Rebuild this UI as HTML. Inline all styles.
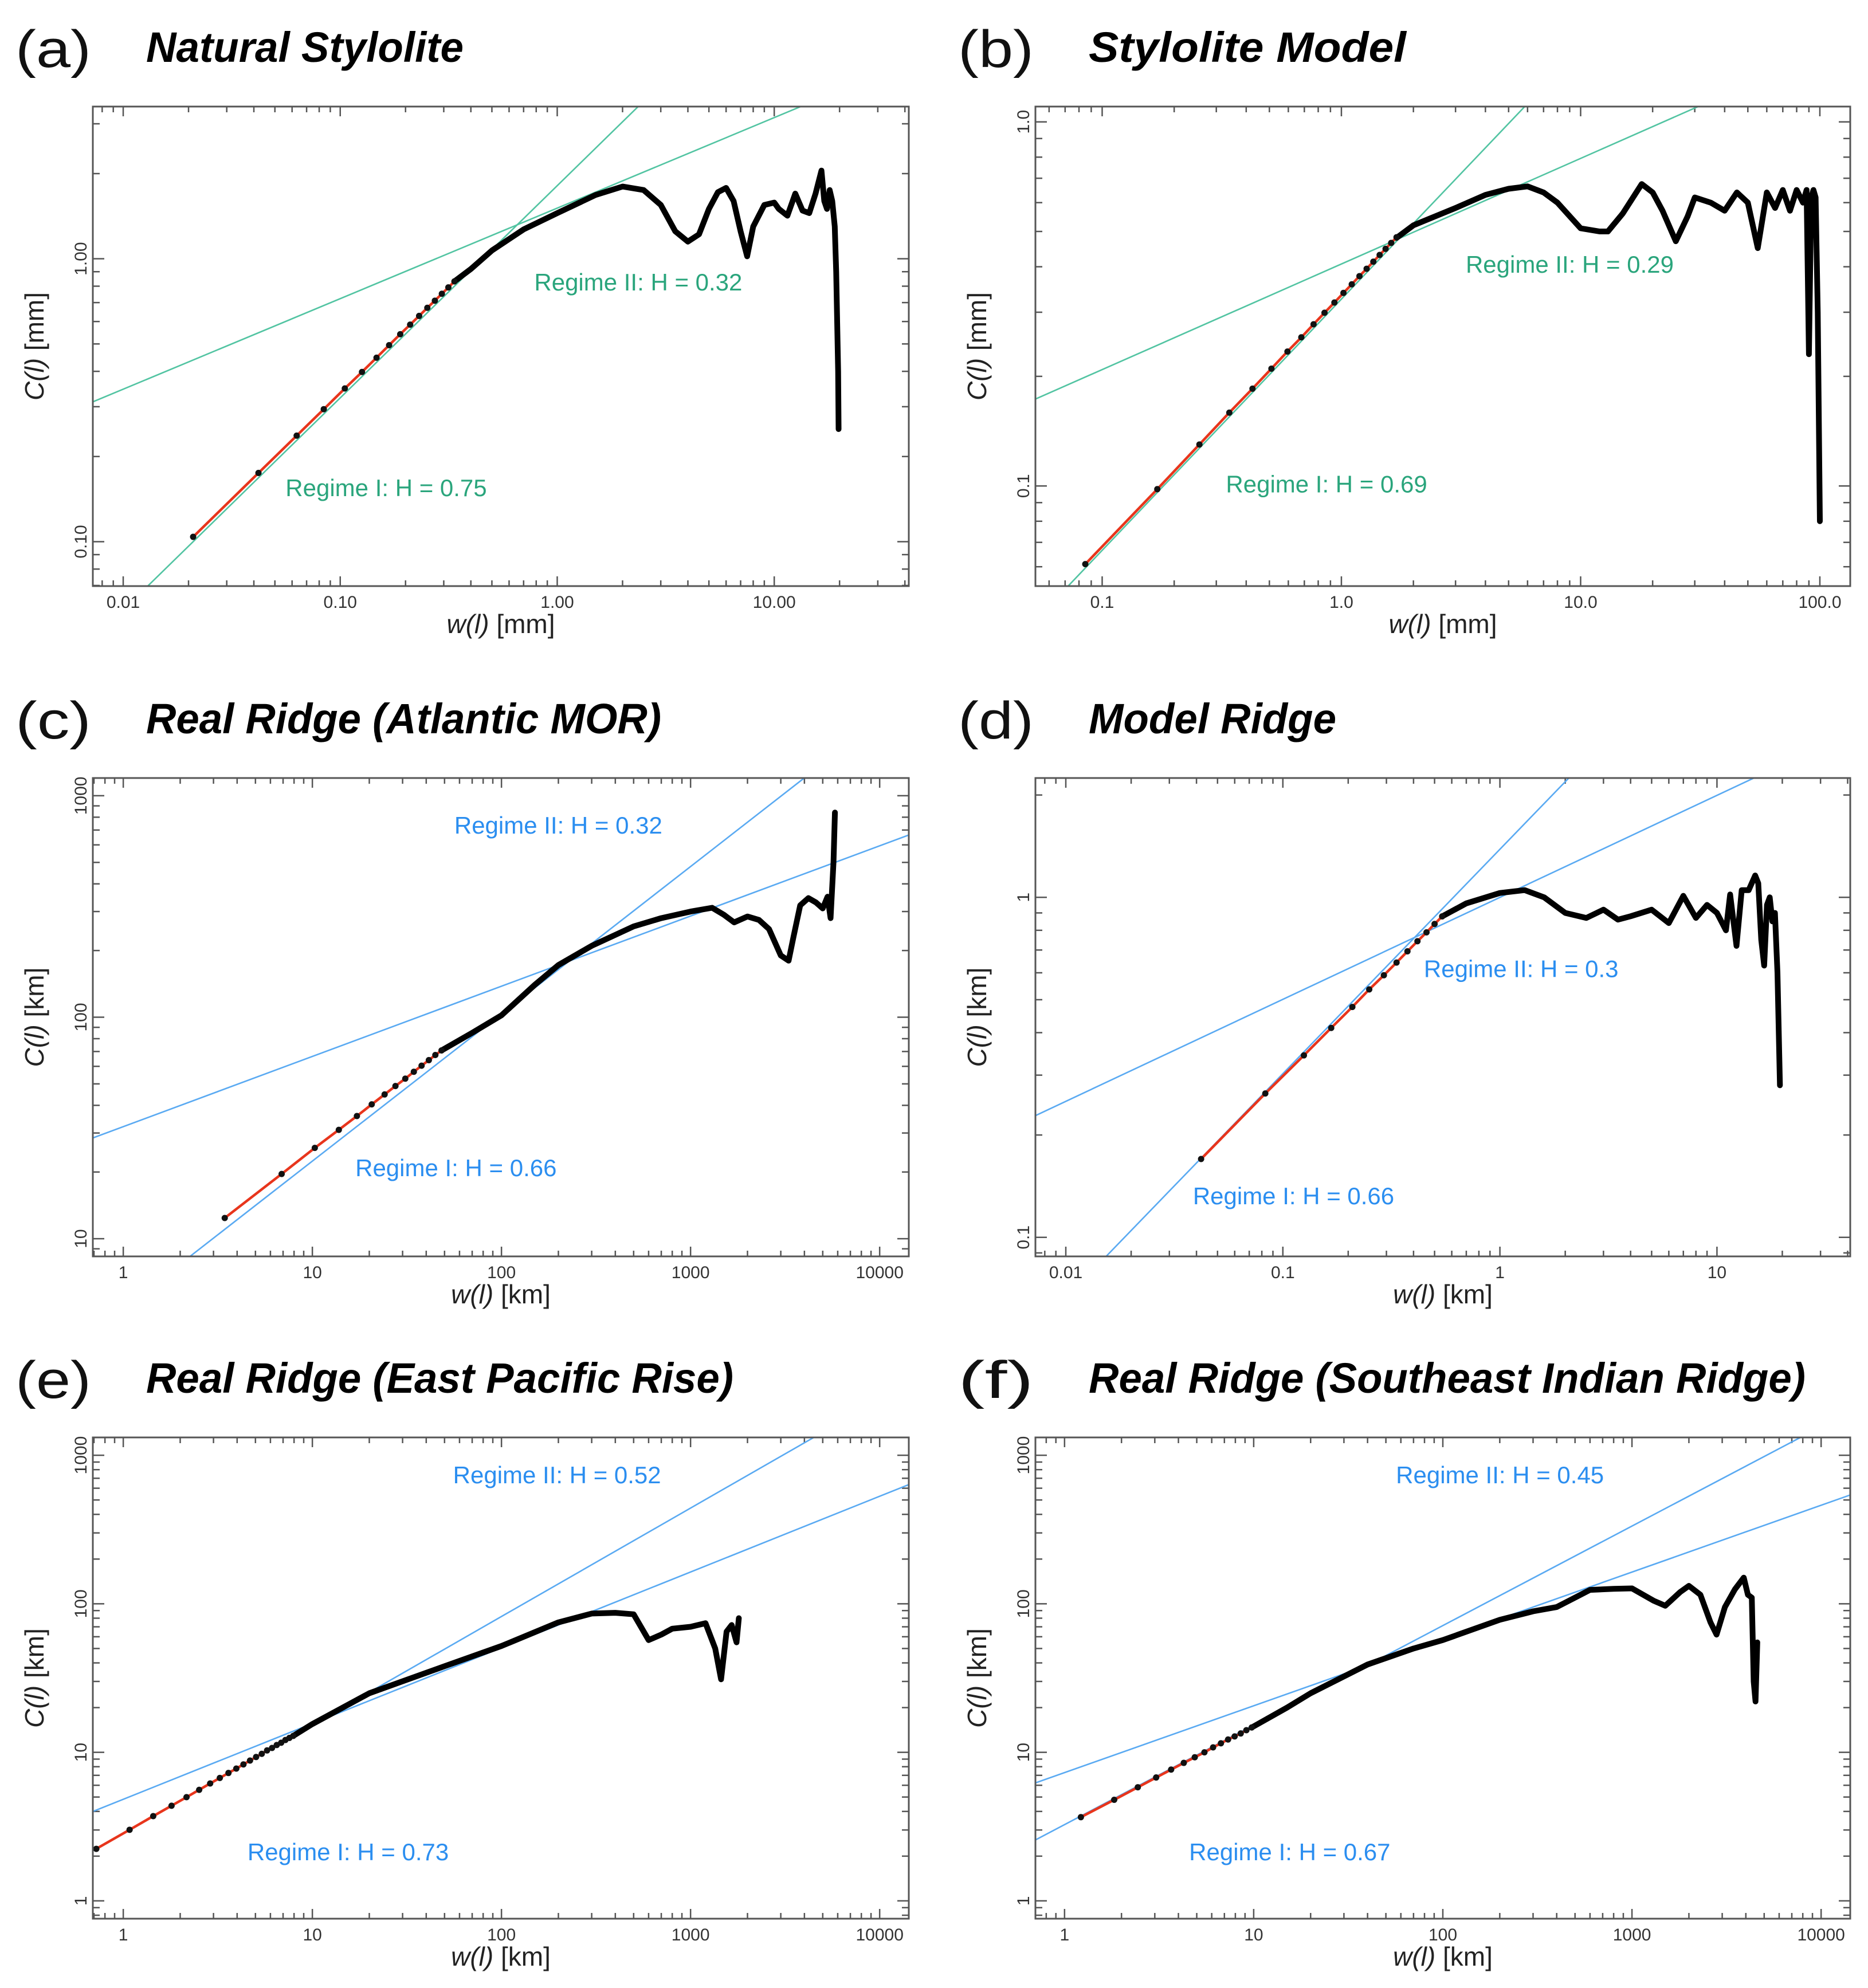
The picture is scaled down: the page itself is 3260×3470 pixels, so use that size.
<!DOCTYPE html>
<html><head><meta charset="utf-8"><style>
html,body{margin:0;padding:0;background:#fff;}
svg{display:block;}
text{font-family:"Liberation Sans",sans-serif;}
</style></head><body>
<svg id="fig" width="3260" height="3470" viewBox="0 0 3260 3470" xmlns="http://www.w3.org/2000/svg"></svg>
<script>
// ---------- data (data units) ----------
const aDotX=[0.021,0.042,0.063,0.084,0.105,0.126,0.147,0.168,0.189,0.21,0.231,0.252,0.273,0.294,0.315,0.336];
const aDotC=[0.104,0.175,0.237,0.294,0.348,0.398,0.447,0.495,0.541,0.585,0.628,0.671,0.711,0.752,0.792,0.832];
const aCurX=[0.336,0.4,0.5,0.7,1,1.5,2,2.5,3,3.5,4,4.5,5,5.5,6,6.5,7,7.5,8,9,10,10.5,11.5,12.5,13.5,14.5,15.5,16.5,17,17.5,18,18.5,19,19.3,19.5,19.7,19.8];
const aCurC=[0.832,0.92,1.07,1.27,1.45,1.68,1.8,1.75,1.55,1.25,1.15,1.22,1.5,1.72,1.78,1.6,1.25,1.02,1.3,1.55,1.58,1.5,1.42,1.7,1.48,1.45,1.7,2.05,1.6,1.5,1.75,1.6,1.3,0.9,0.6,0.4,0.25];
const aFitH=[0.75,0.32], aFitX0=[0.021,1], aFitC0=[0.100,1.51];

const bDotX=[0.085,0.17,0.255,0.34,0.425,0.51,0.595,0.68,0.765,0.85,0.935,1.02,1.105,1.19,1.275,1.36,1.445,1.53,1.615,1.70];
const bDotC=[0.061,0.098,0.130,0.159,0.185,0.210,0.234,0.256,0.278,0.299,0.319,0.339,0.358,0.377,0.395,0.413,0.431,0.448,0.465,0.482];
const bCurX=[1.7,2,3,4,5,6,7,8,10,12,13,15,18,20,22,25,28,30,35,40,45,50,55,60,65,70,75,80,85,88,90,92,94,96,98,100];
const bCurC=[0.48,0.52,0.58,0.63,0.655,0.665,0.64,0.6,0.51,0.5,0.5,0.56,0.675,0.64,0.57,0.47,0.55,0.62,0.6,0.57,0.64,0.6,0.45,0.64,0.58,0.65,0.57,0.65,0.6,0.65,0.23,0.62,0.65,0.62,0.3,0.08];
const bFitH=[0.69,0.29], bFitX0=[1,1], bFitC0=[0.326,0.407];

const cDotX=[3.44,6.88,10.3,13.8,17.2,20.6,24.1,27.5,31.0,34.4,37.8,41.3,44.7,48.2];
const cDotC=[12.4,19.6,25.7,31.0,35.8,40.4,44.8,48.9,52.8,56.7,60.4,64.0,67.5,70.8];
const cCurX=[48.2,70,100,150,200,300,500,700,1000,1300,1500,1700,2000,2300,2600,3000,3300,3500,3800,4200,4600,5000,5300,5500,5700,5800];
const cCurC=[70.8,85,102,140,172,210,257,280,300,312,290,268,285,275,250,190,180,230,320,345,330,310,350,280,500,840];
const cFitH=[0.665,0.317], cFitX0=[10,100], cFitC0=[22.4,138];

const dDotX=[0.042,0.083,0.125,0.167,0.209,0.25,0.292,0.334,0.375,0.417,0.459,0.5,0.542];
const dDotC=[0.17,0.265,0.343,0.413,0.476,0.536,0.590,0.643,0.694,0.743,0.789,0.835,0.879];
const dCurX=[0.542,0.7,1,1.3,1.6,2,2.5,3,3.5,4,5,6,7,8,9,10,11,11.5,12.3,13,14,15,15.5,16,16.5,17,17.5,18,18.5,19,19.5];
const dCurC=[0.879,0.96,1.03,1.05,1.0,0.9,0.87,0.92,0.86,0.88,0.92,0.84,1.01,0.87,0.95,0.9,0.8,1.02,0.72,1.05,1.05,1.16,1.1,0.75,0.63,0.95,1.0,0.85,0.9,0.6,0.28];
const dFitH=[0.66,0.30], dFitX0=[0.1,1], dFitC0=[0.303,1.0];

const eDotX=[0.72,1.08,1.44,1.8,2.16,2.52,2.88,3.24,3.6,3.96,4.32,4.68,5.04,5.4,5.76,6.12,6.48,6.84,7.2,7.56,7.92];
const eDotC=[2.24,3.01,3.72,4.37,4.99,5.59,6.17,6.72,7.26,7.77,8.29,8.80,9.30,9.77,10.3,10.7,11.2,11.6,12.1,12.5,12.9];
const eCurX=[7.92,10,20,50,100,200,300,400,500,600,700,800,1000,1200,1350,1450,1550,1650,1750,1800];
const eCurC=[12.9,15.5,25,38,52,75,86,87,85,57,62,68,70,74,50,31,65,72,55,80];
const eFitH=[0.73,0.51], eFitX0=[0.72,1], eFitC0=[2.24,4.83];

const fDotX=[1.22,1.83,2.44,3.05,3.66,4.27,4.88,5.49,6.1,6.71,7.32,7.93,8.54,9.15,9.76];
const fDotC=[3.66,4.79,5.82,6.77,7.65,8.49,9.26,10.0,10.8,11.5,12.2,12.8,13.4,14.1,14.7];
const fCurX=[9.76,15,20,40,70,100,200,300,400,600,800,1000,1300,1500,1800,2000,2300,2600,2800,3100,3500,3900,4100,4300,4400,4500,4600];
const fCurC=[14.7,20,25,39,50,57,78,89,95,124,126,127,105,97,120,132,115,75,62,95,125,150,115,110,30,22,55];
const fFitH=[0.67,0.45], fFitX0=[1,1], fFitC0=[3.26,7.3];

const xTicksA=["0.01","0.10","1.00","10.00"], yTicksA=["0.10","1.00"];
const xTicksB=["0.1","1.0","10.0","100.0"], yTicksB=["0.1","1.0"];
const xTicksKm=["1","10","100","1000","10000"];
const yTicksC=["10","100","1000"];
const xTicksD=["0.01","0.1","1","10"], yTicksD=["0.1","1"];
const yTicksEF=["1","10","100","1000"];
const regimeLabels=[["Regime I: H = 0.75","Regime II: H = 0.32"],["Regime I: H = 0.69","Regime II: H = 0.29"],["Regime I: H = 0.66","Regime II: H = 0.32"],["Regime I: H = 0.66","Regime II: H = 0.3"],["Regime I: H = 0.73","Regime II: H = 0.52"],["Regime I: H = 0.67","Regime II: H = 0.45"]];

// ---------- layout ----------
const S=2.2147;
const GREEN="#2aa57c", GLINE="#52c4a2", BLUE="#2b8ef0", BLINE="#5aaaf2";
const panels=[
 {id:"a",letter:"(a)",title:"Natural Stylolite",tw:554,L:162,R:1586,T:186,B:1023,xd:[-2.140,1.620],yd:[-1.157,0.538],dx:aDotX,dc:aDotC,cx:aCurX,cc:aCurC,fh:aFitH,fx:aFitX0,fc:aFitC0,xt:xTicksA,yt:yTicksA,unit:"mm",tc:GREEN,lc:GLINE,lab:[[225,391],[421,229]]},
 {id:"b",letter:"(b)",title:"Stylolite Model",tw:554,L:1807,R:3229,T:186,B:1023,xd:[-1.279,2.127],yd:[-1.275,0.042],dx:bDotX,dc:bDotC,cx:bCurX,cc:bCurC,fh:bFitH,fx:bFitX0,fc:bFitC0,xt:xTicksB,yt:yTicksB,unit:"mm",tc:GREEN,lc:GLINE,lab:[[966,388],[1155,215]]},
 {id:"c",letter:"(c)",title:"Real Ridge (Atlantic MOR)",tw:899,L:162,R:1586,T:1358,B:2193,xd:[-0.161,4.154],yd:[0.920,3.080],dx:cDotX,dc:cDotC,cx:cCurX,cc:cCurC,fh:cFitH,fx:cFitX0,fc:cFitC0,xt:xTicksKm,yt:yTicksC,unit:"km",tc:BLUE,lc:BLINE,lab:[[280,927],[358,657]]},
 {id:"d",letter:"(d)",title:"Model Ridge",tw:432,L:1807,R:3229,T:1358,B:2193,xd:[-2.140,1.614],yd:[-1.056,0.351],dx:dDotX,dc:dDotC,cx:dCurX,cc:dCurC,fh:dFitH,fx:dFitX0,fc:dFitC0,xt:xTicksD,yt:yTicksD,unit:"km",tc:BLUE,lc:BLINE,lab:[[940,949],[1122,770]]},
 {id:"e",letter:"(e)",title:"Real Ridge (East Pacific Rise)",tw:1025,L:162,R:1586,T:2509,B:3349,xd:[-0.161,4.154],yd:[-0.120,3.120],dx:eDotX,dc:eDotC,cx:eCurX,cc:eCurC,fh:eFitH,fx:eFitX0,fc:eFitC0,xt:xTicksKm,yt:yTicksEF,unit:"km",tc:BLUE,lc:BLINE,lab:[[195,1466],[357,1169]]},
 {id:"f",letter:"(f)",title:"Real Ridge (Southeast Indian Ridge)",tw:1251,L:1807,R:3229,T:2509,B:3349,xd:[-0.154,4.154],yd:[-0.120,3.120],dx:fDotX,dc:fDotC,cx:fCurX,cc:fCurC,fh:fFitH,fx:fFitX0,fc:fFitC0,xt:xTicksKm,yt:yTicksEF,unit:"km",tc:BLUE,lc:BLINE,lab:[[937,1466],[1100,1169]]}
];
const NS="http://www.w3.org/2000/svg";
const svg=document.getElementById("fig");
function mk(tag,attrs,parent){const e=document.createElementNS(NS,tag);for(const k in attrs)e.setAttribute(k,attrs[k]);(parent||svg).appendChild(e);return e;}

panels.forEach((p,pi)=>{
  const g=mk("g",{});
  
  
  const X=v=>p.L+(Math.log10(v)-p.xd[0])/(p.xd[1]-p.xd[0])*(p.R-p.L);
  const Y=v=>p.B-(Math.log10(v)-p.yd[0])/(p.yd[1]-p.yd[0])*(p.B-p.T);
  const titleBase=p.T-78, letterBase=p.T-69;
  const lx=p.L-135, tx=p.L+93;
  const lt=mk("text",{x:lx,y:letterBase,"font-size":92,fill:"#111",textLength:132,lengthAdjust:"spacingAndGlyphs"},g);
  lt.textContent=p.letter;
  
  
  const tt=mk("text",{x:tx,y:titleBase,"font-size":74,"font-weight":"bold","font-style":"italic",fill:"#000",textLength:p.tw,lengthAdjust:"spacingAndGlyphs"},g);
  tt.textContent=p.title;
  
  
  const cp=mk("clipPath",{id:"clip"+p.id},g);
  mk("rect",{x:p.L,y:p.T,width:p.R-p.L,height:p.B-p.T},cp);
  const tg=mk("g",{stroke:"#555","stroke-width":2.5},g);
  
  
  for(let d=Math.floor(p.xd[0]);d<=Math.ceil(p.xd[1]);d++){
    for(let m=1;m<10;m++){const lv=d+Math.log10(m);if(lv<p.xd[0]||lv>p.xd[1])continue;
      const x=X(Math.pow(10,lv)),len=m==1?17:10;
      mk("line",{x1:x,y1:p.B,x2:x,y2:p.B-len},tg);mk("line",{x1:x,y1:p.T,x2:x,y2:p.T+len},tg);}
  }
  for(let d=Math.floor(p.yd[0]);d<=Math.ceil(p.yd[1]);d++){
    for(let m=1;m<10;m++){const lv=d+Math.log10(m);if(lv<p.yd[0]||lv>p.yd[1])continue;
      const y=Y(Math.pow(10,lv)),len=m==1?20:12;
      mk("line",{x1:p.L,y1:y,x2:p.L+len,y2:y},tg);mk("line",{x1:p.R,y1:y,x2:p.R-len,y2:y},tg);}
  }
  p.xt.forEach(s=>{const t=mk("text",{x:X(parseFloat(s)),y:p.B+38,"font-size":30,fill:"#333","text-anchor":"middle"},g);t.textContent=s;
    
    });
  p.yt.forEach(s=>{const y=Y(parseFloat(s));const t=mk("text",{x:0,y:0,"font-size":30,fill:"#333","text-anchor":"middle",transform:`translate(${p.L-11},${y}) rotate(-90)`},g);t.textContent=s;
    
    });
  const xa=mk("text",{x:(p.L+p.R)/2,y:p.B+82,"font-size":46,fill:"#222","text-anchor":"middle"},g);
  xa.innerHTML='<tspan font-style="italic">w(l)</tspan>  ['+p.unit+']';
  
  
  const ya=mk("text",{x:0,y:0,"font-size":46,fill:"#222","text-anchor":"middle",transform:`translate(${p.L-86},${(p.T+p.B)/2}) rotate(-90)`},g);
  ya.innerHTML='<tspan font-style="italic">C(l)</tspan>  ['+p.unit+']';
  
  
  const cg=mk("g",{"clip-path":`url(#clip${p.id})`},g);
  p.fh.forEach((H,i)=>{
    const f=x=>p.fc[i]*Math.pow(x/p.fx[i],H);
    const x1=Math.pow(10,p.xd[0]),x2=Math.pow(10,p.xd[1]);
    const l=mk("line",{x1:X(x1),y1:Y(f(x1)),x2:X(x2),y2:Y(f(x2)),stroke:p.lc,"stroke-width":2.6},cg);
    
    
  });
  const cpts=p.cx.map((x,i)=>X(x).toFixed(1)+","+Y(p.cc[i]).toFixed(1)).join(" ");
  const cv=mk("polyline",{points:cpts,fill:"none",stroke:"#000","stroke-width":10,"stroke-linejoin":"round","stroke-linecap":"round"},cg);
  
  
  const dpts=p.dx.map((x,i)=>X(x).toFixed(1)+","+Y(p.dc[i]).toFixed(1)).join(" ");
  const rl=mk("polyline",{points:dpts,fill:"none",stroke:"#e8351c","stroke-width":4.5},cg);
  
  
  p.dx.forEach((x,i)=>{const c=mk("circle",{cx:X(x),cy:Y(p.dc[i]),r:5.5,fill:"#111"},cg);
    
    });
  const fr=mk("rect",{x:p.L,y:p.T,width:p.R-p.L,height:p.B-p.T,fill:"none",stroke:"#555","stroke-width":3},g);
  
  
  regimeLabels[pi].forEach((s,i)=>{
    const t=mk("text",{x:p.lab[i][0]*S,y:p.lab[i][1]*S,"font-size":42,fill:p.tc},g);t.textContent=s;
    
    
  });
});
</script>
</body></html>
